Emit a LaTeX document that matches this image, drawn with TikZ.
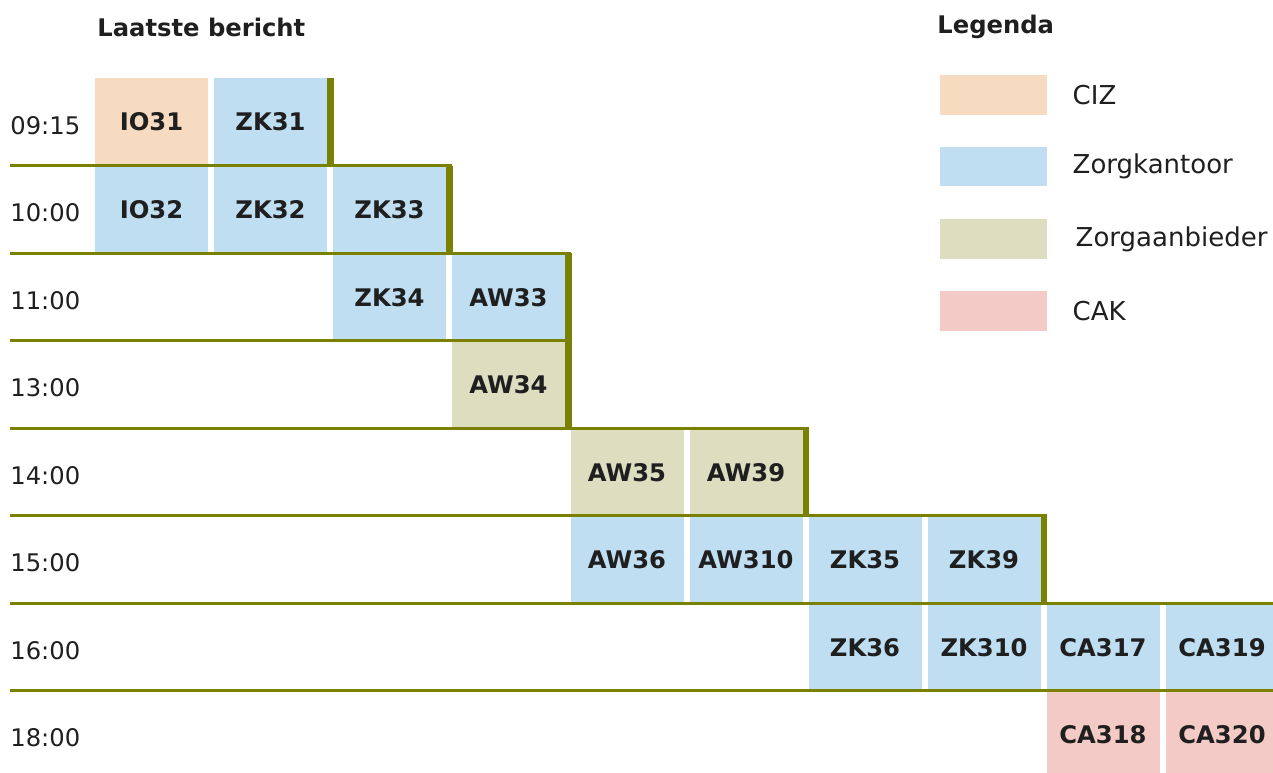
\documentclass[tikz,border=0pt]{standalone}
\usepackage{fontspec}
\setmainfont{DejaVu Sans}
\usetikzlibrary{positioning}
\definecolor{ciz}{RGB}{247,219,192}
\definecolor{zorgk}{RGB}{191,222,241}
\definecolor{zorga}{RGB}{221,221,192}
\definecolor{cak}{RGB}{243,202,197}
\definecolor{lijn}{RGB}{122,128,0}

\begin{document}
\begin{tikzpicture}[x=0.02cm, y=-0.02cm,
        every node/.style={font=\fontsize{13.8}{16}\selectfont, text=black!88},
        msg/.style={rectangle, inner sep=0pt, minimum width=2.26cm, minimum height=1.76cm, font=\fontsize{13.8}{16}\selectfont\bfseries},  % berichtvak
        CIZ/.style={msg, fill=ciz},
        ZK/.style={msg, fill=zorgk},
        ZA/.style={msg, fill=zorga},
        CAK/.style={msg, fill=cak},
        tijd/.style={anchor=west, inner sep=0pt},
        kop/.style={anchor=west, inner sep=0pt, font=\fontsize{13.8}{16}\selectfont\bfseries},
        key/.style={rectangle, inner sep=0pt, minimum width=2.14cm, minimum height=0.8cm},
        keytext/.style={inner sep=0pt, font=\fontsize{14.8}{17}\selectfont},
        rij/.style={draw=lijn, line width=0.06cm},
        grens/.style={draw=lijn, line width=0.13cm},
    ]
        \useasboundingbox (0,0) rectangle (1273,773);

        %Headings
        \node[kop] (Laatste) at (97,27) {Laatste bericht};
        \node[kop] (Legenda) at (937,27) {Legenda};

        %Times
        \node[tijd] (t0915) at (10,126) {09:15};
        \node[tijd] (t1000) at (10,213) {10:00};
        \node[tijd] (t1100) at (10,301) {11:00};
        \node[tijd] (t1300) at (10,388) {13:00};
        \node[tijd] (t1400) at (10,476) {14:00};
        \node[tijd] (t1500) at (10,563) {15:00};
        \node[tijd] (t1600) at (10,651) {16:00};
        \node[tijd] (t1800) at (10,738) {18:00};

        %Messages
        \node[CIZ] (IO31) at (151.5,122) {IO31};
        \node[ZK] (ZK31) at (270.5,122) {ZK31};
        \node[ZK] (IO32) at (151.5,210) {IO32};
        \node[ZK] (ZK32) at (270.5,210) {ZK32};
        \node[ZK] (ZK33) at (389.5,210) {ZK33};
        \node[ZK] (ZK34) at (389.5,297.5) {ZK34};
        \node[ZK] (AW33) at (508.5,297.5) {AW33};
        \node[ZA] (AW34) at (508.5,385) {AW34};
        \node[ZA] (AW35) at (627,472.5) {AW35};
        \node[ZA] (AW39) at (746,472.5) {AW39};
        \node[ZK] (AW36) at (627,560) {AW36};
        \node[ZK] (AW310) at (746,560) {AW310};
        \node[ZK] (ZK35) at (865,560) {ZK35};
        \node[ZK] (ZK39) at (984,560) {ZK39};
        \node[ZK] (ZK36) at (865,648) {ZK36};
        \node[ZK] (ZK310) at (984,648) {ZK310};
        \node[ZK] (CA317) at (1103,648) {CA317};
        \node[ZK] (CA319) at (1222,648) {CA319};
        \node[CAK] (CA318) at (1103,735) {CA318};
        \node[CAK] (CA320) at (1222,735) {CA320};

        %Legend
        \node[key, fill=ciz] (keyCIZ) at (993.5,95) {};
        \node[key, fill=zorgk] (keyZK) at (993.5,166.5) {};
        \node[key, fill=zorga] (keyZA) at (993.5,239) {};
        \node[key, fill=cak] (keyCAK) at (993.5,311) {};
        \node[keytext] (txtCIZ) [right=0.5cm of keyCIZ] {CIZ};
        \node[keytext] (txtZK) [right=0.5cm of keyZK] {Zorgkantoor};
        \node[keytext] (txtZA) [right=0.56cm of keyZA] {Zorgaanbieder};
        \node[keytext] (txtCAK) [right=0.5cm of keyCAK] {CAK};

        %Lines
        \draw[rij] (t1000.west |- IO32.north) -- ([xshift=0.12cm]ZK33.north east);
        \draw[rij] (t1100.west |- ZK34.north) -- ([xshift=0.12cm]AW33.north east);
        \draw[rij] (t1300.west |- AW34.north) -- ([xshift=0.12cm]AW34.north east);
        \draw[rij] (t1400.west |- AW35.north) -- ([xshift=0.12cm]AW39.north east);
        \draw[rij] (t1500.west |- AW36.north) -- ([xshift=0.12cm]ZK39.north east);
        \draw[rij] (t1600.west |- ZK36.north) -- (CA319.north east);
        \draw[rij] (t1800.west |- CA318.north) -- (CA320.north east);
        \draw[grens] ([xshift=0.06cm]ZK31.north east) -- ([xshift=0.06cm]ZK31.south east);
        \draw[grens] ([xshift=0.06cm]ZK33.north east) -- ([xshift=0.06cm]ZK33.south east);
        \draw[grens] ([xshift=0.06cm]AW33.north east) -- ([xshift=0.06cm]AW33.south east);
        \draw[grens] ([xshift=0.06cm]AW34.north east) -- ([xshift=0.06cm]AW34.south east);
        \draw[grens] ([xshift=0.06cm]AW39.north east) -- ([xshift=0.06cm]AW39.south east);
        \draw[grens] ([xshift=0.06cm]ZK39.north east) -- ([xshift=0.06cm]ZK39.south east);
    \end{tikzpicture}
\end{document}
